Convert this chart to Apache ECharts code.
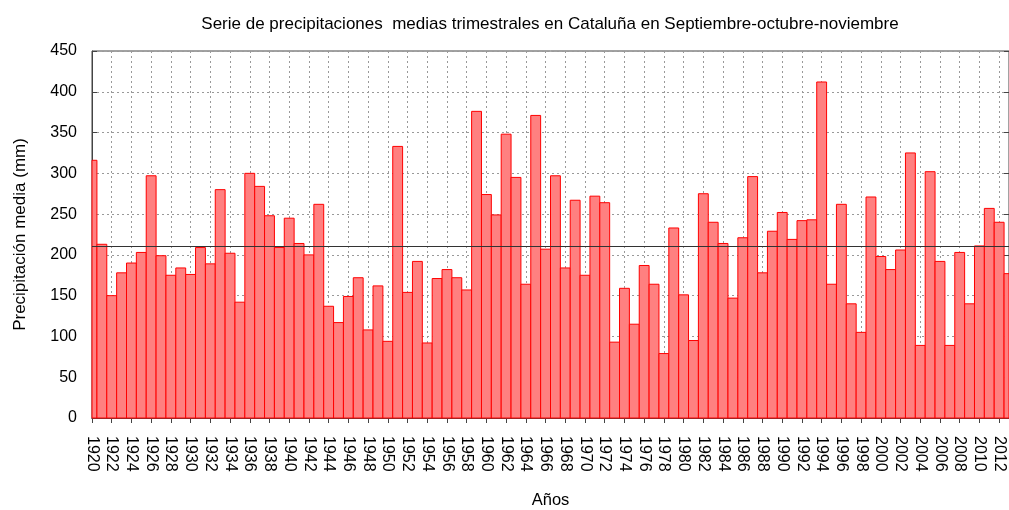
<!DOCTYPE html>
<html>
<head>
<meta charset="utf-8">
<script src="https://cdn.jsdelivr.net/npm/echarts@6/dist/echarts.min.js"></script>
<style>
  html, body { margin: 0; padding: 0; background: #fff; }
  #chart { width: 1009px; height: 510px; }
</style>
</head>
<body>
<div id="chart"></div>
<script>
// autumn (SON) mean rainfall, Catalonia, 1920-2013
const years = [
  1920, 1921, 1922, 1923, 1924, 1925, 1926, 1927, 1928, 1929,
  1930, 1931, 1932, 1933, 1934, 1935, 1936, 1937, 1938, 1939,
  1940, 1941, 1942, 1943, 1944, 1945, 1946, 1947, 1948, 1949,
  1950, 1951, 1952, 1953, 1954, 1955, 1956, 1957, 1958, 1959,
  1960, 1961, 1962, 1963, 1964, 1965, 1966, 1967, 1968, 1969,
  1970, 1971, 1972, 1973, 1974, 1975, 1976, 1977, 1978, 1979,
  1980, 1981, 1982, 1983, 1984, 1985, 1986, 1987, 1988, 1989,
  1990, 1991, 1992, 1993, 1994, 1995, 1996, 1997, 1998, 1999,
  2000, 2001, 2002, 2003, 2004, 2005, 2006, 2007, 2008, 2009,
  2010, 2011, 2012, 2013
]
const rainfall = [
  316, 213, 150, 178, 190, 203, 297, 199, 175, 184,
  176, 209, 189, 280, 202, 142, 300, 284, 248, 209,
  245, 214, 200, 262, 137, 117, 149, 172, 108, 162,
  94, 333, 154, 192, 92, 171, 182, 172, 157, 376,
  274, 249, 348, 295, 164, 371, 207, 297, 184, 267,
  175, 272, 264, 93, 159, 115, 187, 164, 79, 233,
  151, 95, 275, 240, 214, 147, 221, 296, 178, 229,
  252, 219, 242, 243, 412, 164, 262, 140, 105, 271,
  198, 182, 206, 325, 89, 302, 192, 89, 203, 140,
  211, 257, 240, 177
]
const meanRainfall = 211

const font = 'Liberation Sans'
const frameColor = '#444'
const gridLine = { show: true, lineStyle: { color: '#999', type: [2, 3], width: 1 } }

const chart = echarts.init(document.getElementById('chart'))

// one box per year, a full year wide, clipped to the plot like gnuplot does
function renderBox(params, api) {
  const year = api.value(0)
  const val = api.value(1)
  const topLeft = api.coord([year - 0.5, val])
  const bottomRight = api.coord([year + 0.5, 0])
  const cs = params.coordSys
  const shape = echarts.graphic.clipRectByRect({
    x: topLeft[0],
    y: topLeft[1],
    width: bottomRight[0] - topLeft[0],
    height: bottomRight[1] - topLeft[1]
  }, { x: cs.x, y: cs.y, width: cs.width, height: cs.height })
  if (!shape) return
  return {
    type: 'rect',
    shape: shape,
    style: { fill: '#ff8080', stroke: '#ff0000', lineWidth: 1 }
  }
}

chart.setOption({
  animation: false,
  title: {
    text: 'Serie de precipitaciones  medias trimestrales en Cataluña en Septiembre-octubre-noviembre',
    left: 545,
    top: 11,
    textAlign: 'center',
    textStyle: { fontFamily: font, fontSize: 17, fontWeight: 'normal', color: '#000' }
  },
  grid: {
    left: 92,
    right: 0,
    top: 51,
    bottom: 92,
    outerBoundsMode: 'none',
    containLabel: false,
    show: true,
    borderColor: frameColor,
    borderWidth: 1
  },
  xAxis: [{
    type: 'value',
    min: 1920,
    max: 2013,
    interval: 2,
    name: 'Años',
    nameLocation: 'middle',
    nameGap: 74,
    nameTextStyle: { fontFamily: font, fontSize: 16.5, color: '#000' },
    axisLine: { show: true, lineStyle: { color: frameColor } },
    axisTick: { show: false },
    axisLabel: {
      rotate: -90,
      margin: 18,
      showMaxLabel: false,
      fontFamily: font,
      fontSize: 16,
      color: '#000',
      formatter: v => String(v)
    },
    splitLine: gridLine
  }, {
    type: 'value',
    position: 'top',
    min: 1920,
    max: 2013,
    interval: 2,
    axisLine: { show: true, lineStyle: { color: frameColor } },
    axisTick: { show: true, inside: true, length: 5, lineStyle: { color: frameColor } },
    axisLabel: { show: false },
    splitLine: { show: false }
  }],
  yAxis: [{
    type: 'value',
    min: 0,
    max: 450,
    interval: 50,
    name: 'Precipitación media (mm)',
    nameLocation: 'middle',
    nameGap: 63,
    nameTextStyle: { fontFamily: font, fontSize: 17, color: '#000' },
    axisLine: { show: true, lineStyle: { color: frameColor } },
    axisTick: { show: true, inside: true, length: 5, lineStyle: { color: frameColor } },
    axisLabel: { margin: 15, fontFamily: font, fontSize: 16, color: '#000' },
    splitLine: gridLine
  }, {
    type: 'value',
    position: 'right',
    min: 0,
    max: 450,
    interval: 50,
    axisLine: { show: false },
    axisTick: { show: true, inside: true, length: 5, lineStyle: { color: frameColor } },
    axisLabel: { show: false },
    splitLine: { show: false }
  }],
  series: [{
    type: 'custom',
    renderItem: renderBox,
    encode: { x: 0, y: 1 },
    data: years.map((y, i) => [y, rainfall[i]]),
    markLine: {
      silent: true,
      symbol: ['none', 'none'],
      label: { show: false },
      lineStyle: { color: '#333', type: 'solid', width: 1 },
      data: [{ yAxis: meanRainfall }]
    }
  }]
})
</script>
</body>
</html>
